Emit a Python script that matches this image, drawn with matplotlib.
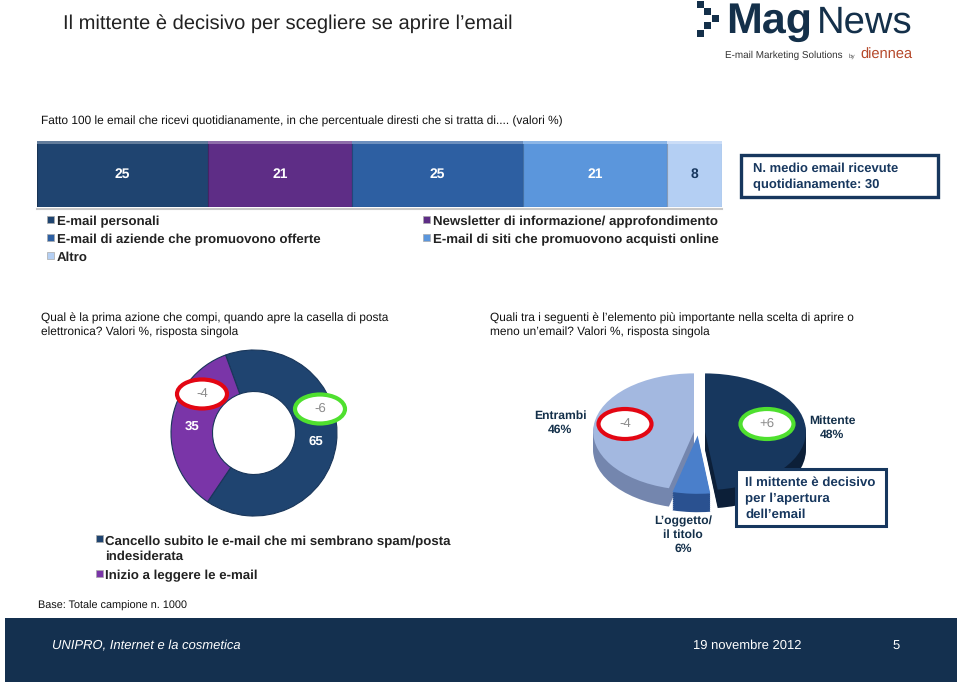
import matplotlib
matplotlib.use('Agg')
import matplotlib.pyplot as plt
from matplotlib.colors import to_rgb
from matplotlib.patches import Ellipse, Rectangle

plt.rcParams['font.family'] = ['Liberation Sans', 'DejaVu Sans']
plt.rcParams['text.hinting'] = 'no_hinting'
plt.rcParams['text.hinting_factor'] = 8

# data
top_values = [25, 21, 25, 21, 8]
top_colors = ['#1f4470', '#5e2d86', '#2d5fa2', '#5b96dc', '#b4cff3']
top_text_colors = ['white', 'white', 'white', 'white', '#17375e']
top_legend = [
    (47, 220, 'E-mail personali', 0),
    (423, 220, 'Newsletter di informazione/ approfondimento', 1),
    (47, 238, 'E-mail di aziende che promuovono offerte', 2),
    (423, 238, 'E-mail di siti che promuovono acquisti online', 3),
    (47, 256, 'Altro', 4),
]
donut_values = [65, 35]
donut_labels = ['65', '35']
donut_colors = ['#1f4470', '#7a35a8']
pie_values = [48, 6, 46]
pie_colors = ['#17375e', '#4a7fcb', '#a3b8e0']
pie_side_colors = ['#0c1f38', '#2a5190', '#7486ae']


def shade(color, k):
    r, g, b = to_rgb(color)
    if k > 1:
        return (r + (1 - r) * (k - 1), g + (1 - g) * (k - 1), b + (1 - b) * (k - 1))
    return (r * k, g * k, b * k)


def px_axes(x0, y0, x1, y1, zorder=1):
    # rettangolo in pixel dell'immagine -> axes
    return fig.add_axes([x0 / 960, 1 - y1 / 686, (x1 - x0) / 960, (y1 - y0) / 686], zorder=zorder)


fig = plt.figure(figsize=(9.6, 6.86), dpi=100, facecolor='white')

# barra impilata
ax_bar = px_axes(37, 141, 722, 207)
left = 0
for v, c, tc in zip(top_values, top_colors, top_text_colors):
    ax_bar.barh(0.5, v, left=left, height=1, color=c, edgecolor=shade(c, 0.75), linewidth=0.8)
    ax_bar.barh(0.975, v, left=left, height=0.05, color=shade(c, 1.3), linewidth=0)
    ax_bar.text(left + v / 2, 0.5, str(v), ha='center', va='center', color=tc, fontsize=10, fontweight='bold')
    left += v
ax_bar.set_xlim(0, 100)
ax_bar.set_ylim(0, 1)
ax_bar.axis('off')

# ciambella
ax_donut = px_axes(171, 350, 337, 516)
ax_donut.pie(donut_values, colors=donut_colors, startangle=110, counterclock=False, radius=1,
             wedgeprops=dict(width=0.5, edgecolor=shade('#1f4470', 0.8), linewidth=0.8))
ax_donut.set_xlim(-1, 1)
ax_donut.set_ylim(-1, 1)

# torta "3D": strati sovrapposti schiacciati
ax_pie = px_axes(577, 362, 819, 502)
explode = [0.07, 0.06, 0.04]
for i in range(9, 0, -1):
    ax_pie.pie(pie_values, colors=pie_side_colors, startangle=90, counterclock=False, explode=explode,
               center=(0, -i * 0.035), radius=1, wedgeprops=dict(linewidth=0))
ax_pie.pie(pie_values, colors=pie_colors, startangle=90, counterclock=False, explode=explode,
           radius=1, wedgeprops=dict(linewidth=0))
ax_pie.set_aspect('auto')
ax_pie.set_xlim(-1.2, 1.2)
ax_pie.set_ylim(-1.2, 1.2)
ax_pie.axis('off')

# livello testi in coordinate pixel
ax = px_axes(0, 0, 960, 686, zorder=5)
ax.set_xlim(0, 960)
ax.set_ylim(686, 0)
ax.axis('off')
ax.patch.set_alpha(0)

ax.text(63, 23.5, 'Il mittente è decisivo per scegliere se aprire l’email', fontsize=14.5, color='#222222', va='center')
ax.text(41, 121, 'Fatto 100 le email che ricevi quotidianamente, in che percentuale diresti che si tratta di.... (valori %)',
        fontsize=8.6, color='#111111', va='center')
ax.plot([37, 722], [208.5, 208.5], color='#c8c8c8', lw=1.5)

# logo
for x, y in [(697, 1), (704, 8), (712, 15), (704, 22), (697, 30)]:
    ax.add_patch(Rectangle((x, y), 7, 7, color='#14304a', lw=0))
ax.text(726, 33, 'Mag', fontsize=31, fontweight='bold', color='#14304a', va='baseline')
ax.text(817, 33, 'News', fontsize=27.5, color='#14304a', va='baseline')
ax.text(725, 55, 'E-mail Marketing Solutions', fontsize=7.1, color='#333333', va='center')
ax.text(849, 56, 'by', fontsize=4.5, color='#555555', va='center')
ax.text(860, 55, 'diennea', fontsize=10.5, color='#b5482a', va='center')

# box numero medio
ax.add_patch(Rectangle((741, 155), 197, 42, fc='white', ec='#17375e', lw=2.4))
ax.text(753, 177, 'N. medio email ricevute\nquotidianamente: 30', fontsize=9.4, fontweight='bold', color='#17375e',
        va='center', linespacing=1.45)

# legenda in alto
for x, y, label, i in top_legend:
    ax.add_patch(Rectangle((x, y - 4), 7, 7, fc=top_colors[i], ec='#aaaaaa', lw=0.5))
    ax.text(x + 10, y + 1.5, label, fontsize=9.55, fontweight='bold', color='#222222', va='center')

# domande
ax.text(41, 325.5, 'Qual è la prima azione che compi, quando apre la casella di posta\nelettronica? Valori %, risposta singola',
        fontsize=8.57, color='#111111', va='center', linespacing=1.3)
ax.text(490, 325, 'Quali tra i seguenti è l’elemento più importante nella scelta di aprire o\nmeno un’email? Valori %, risposta singola',
        fontsize=8.56, color='#111111', va='center', linespacing=1.3)

# etichette ciambella
ax.text(316, 442, donut_labels[0], color='white', fontsize=9.5, fontweight='bold', ha='center', va='center')
ax.text(192, 426, donut_labels[1], color='white', fontsize=9.5, fontweight='bold', ha='center', va='center')
for x, y, txt, col in [(202, 394, '-4', '#e30613'), (320, 409, '-6', '#4fe02f')]:
    ax.add_patch(Ellipse((x, y), 50, 29, fc='white', ec=col, lw=3))
    ax.text(x, y, txt, color='#8c8c8c', fontsize=9.5, ha='center', va='center')

# etichette torta
for x, y, txt, col in [(625, 424, '-4', '#e30613'), (767, 424, '+6', '#4fe02f')]:
    ax.add_patch(Ellipse((x, y), 53, 30, fc='white', ec=col, lw=3))
    ax.text(x, y, txt, color='#8c8c8c', fontsize=9.5, ha='center', va='center')
ax.text(560, 423, 'Entrambi\n46%', fontsize=8.7, fontweight='bold', color='#14304a', ha='center', va='center', linespacing=1.3)
ax.text(832, 427.5, 'Mittente\n48%', fontsize=8.7, fontweight='bold', color='#14304a', ha='center', va='center', linespacing=1.3)
ax.text(683, 535, 'L’oggetto/\nil titolo\n6%', fontsize=8.7, fontweight='bold', color='#14304a', ha='center', va='center', linespacing=1.25)

ax.add_patch(Rectangle((736, 469), 150, 57, fc='white', ec='#17375e', lw=2.2))
ax.text(745, 498.5, 'Il mittente è decisivo\nper l’apertura\ndell’email', fontsize=9.5, fontweight='bold', color='#17375e',
        va='center', linespacing=1.4)

# legenda ciambella
ax.add_patch(Rectangle((96, 535), 7, 7, fc=donut_colors[0], ec='#aaaaaa', lw=0.5))
ax.add_patch(Rectangle((96, 570), 7, 7, fc=donut_colors[1], ec='#aaaaaa', lw=0.5))
ax.text(105, 549, 'Cancello subito le e-mail che mi sembrano spam/posta\nindesiderata', fontsize=9.5, fontweight='bold', color='#222222',
        va='center', linespacing=1.3)
ax.text(105, 575.5, 'Inizio a leggere le e-mail', fontsize=9.5, fontweight='bold', color='#222222', va='center')

ax.text(38, 605.5, 'Base: Totale campione n. 1000', fontsize=7.8, color='#111111', va='center')

# piè di pagina
ax.add_patch(Rectangle((5, 618), 952, 64, fc='#14304f', lw=0))
ax.text(52, 646, 'UNIPRO, Internet e la cosmetica', fontsize=9.4, style='italic', color='white', va='center')
ax.text(693, 646, '19 novembre 2012', fontsize=9.4, color='white', va='center')
ax.text(896, 647, '5', fontsize=9.4, color='white', ha='center', va='center')

fig.savefig('out.png', dpi=100)
